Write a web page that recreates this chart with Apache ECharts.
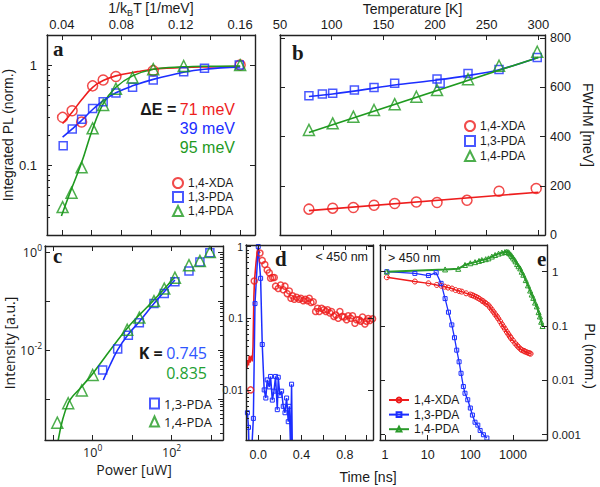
<!DOCTYPE html>
<html><head><meta charset="utf-8">
<script src="https://cdn.jsdelivr.net/npm/echarts@6/dist/echarts.min.js"></script>
<style>html,body{margin:0;padding:0;background:#fff}#c{width:600px;height:487px}</style>
</head><body><div id="c"></div><script>
// ---------- Panel a : integrated PL vs 1/kBT ----------
const aX_XDA = [0.0405,0.0469,0.0533,0.0607,0.0678,0.0764,0.1015,0.16];
const aY_XDA = [0.30,0.35,0.27,0.62,0.71,0.77,0.88,1.0];
const aX_13 = [0.0409,0.047,0.0533,0.0607,0.0678,0.0764,0.0876,0.1015,0.122,0.136,0.1594];
const aY_13 = [0.156,0.229,0.288,0.368,0.43,0.525,0.60,0.71,0.86,0.93,1.0];
const aX_14 = [0.0405,0.0465,0.0533,0.0607,0.0678,0.0764,0.0876,0.1015,0.122,0.16];
const aY_14 = [0.038,0.053,0.095,0.233,0.40,0.58,0.75,0.91,0.98,1.0];
const aFitX_XDA = [0.0405,0.047,0.0533,0.0607,0.0678,0.0764,0.091,0.1015,0.122,0.14,0.16];
const aFitY_XDA = [0.26,0.34,0.45,0.60,0.70,0.78,0.86,0.91,0.95,0.96,0.97];
const aFitX_13 = [0.0405,0.047,0.0533,0.0607,0.0678,0.0764,0.0876,0.1015,0.122,0.136,0.16];
const aFitY_13 = [0.19,0.23,0.28,0.36,0.44,0.53,0.62,0.72,0.85,0.91,0.96];
const aFitX_14 = [0.0397,0.0465,0.0533,0.0607,0.0678,0.0764,0.0876,0.1015,0.122,0.14,0.16];
const aFitY_14 = [0.031,0.058,0.106,0.23,0.41,0.60,0.78,0.91,0.96,0.975,0.98];
const aTopLabels = [0.04,0.08,0.12,0.16];
const aXTicks = [0.04,0.06,0.08,0.10,0.12,0.14,0.16];

// ---------- Panel b : FWHM vs temperature ----------
const bT_XDA = [78,101,121,141,161,182,202,231,262,298];
const bW_XDA = [105,109,112,121,128,134,132,141,178,189];
const bT_13 = [78,91,101,122,141,161,202,205,232,262,299];
const bW_13 = [566,573,576,589,600,617,634,617,657,673,722];
const bT_14 = [78,101,121,141,161,182,202,232,262,299];
const bW_14 = [427,454,481,508,532,562,589,633,688,745];
const bFitT_XDA = [78,300];
const bFitW_XDA = [99,174];
const bFitT_13 = [78,101,141,161,202,232,262,300];
const bFitW_13 = [563,573,597,610,630,648,672,722];
const bFitT_14 = [78,300];
const bFitW_14 = [417,722];
const bTopLabels = [50,100,150,200,250,300];
const bYLabels = [0,200,400,600,800];

// ---------- Panel c : intensity vs power ----------
const cP_13 = [1.79,4.3,8.0,15.2,35.7,65,121,275,520,930];
const cI_13 = [0.0039,0.0105,0.020,0.036,0.089,0.143,0.248,0.41,0.63,0.97];
const cP_14 = [0.127,0.24,0.53,1.0,7.5,15.2,35.7,65,121,275,520,930];
const cI_14 = [0.00033,0.00082,0.0015,0.0031,0.026,0.046,0.10,0.18,0.30,0.54,0.66,1.0];
const cFitP_13 = [1.86,2.74,4.3,8.0,15.2,35.7,65,121];
const cFitI_13 = [0.00245,0.0049,0.0101,0.021,0.038,0.089,0.155,0.27];
const cFitP_14 = [0.134,0.24,0.53,1.0,7.5,35.7,121];
const cFitI_14 = [0.000145,0.00082,0.0018,0.0033,0.028,0.105,0.31];

// ---------- Panel d : < 450 nm decay ----------
const dT_XDAline = [-0.105,-0.098,-0.09,-0.083,-0.076,-0.069,-0.062,-0.055,-0.048,-0.04,-0.035,-0.02,-0.005,0.016];
const dV_XDAline = [0.02,0.026,0.022,0.03,0.024,0.028,0.03,0.025,0.04,0.2,0.33,0.6,0.95,0.81];
const dT_XDA = [-0.07,-0.037,0.016,0.037,0.061,0.083,0.102,0.114,0.133,0.148,0.160,0.185,0.207,0.231,0.247,0.268,0.287,0.302,0.318,0.333,0.354,0.376,0.394,0.416,0.434,0.456,0.471,0.487,0.508,0.530,0.548,0.564,0.585,0.606,0.625,0.64,0.662,0.677,0.699,0.717,0.739,0.754,0.776,0.794,0.816,0.831,0.853,0.871,0.893,0.908,0.93,0.948,0.963,0.985,1.0,1.016,1.031,1.056];
const dV_XDA = [0.01,0.33,0.81,0.64,0.56,0.47,0.43,0.36,0.37,0.37,0.28,0.26,0.29,0.25,0.28,0.22,0.24,0.19,0.205,0.184,0.196,0.184,0.19,0.175,0.184,0.175,0.19,0.166,0.17,0.124,0.138,0.124,0.138,0.131,0.124,0.131,0.118,0.124,0.106,0.111,0.1,0.124,0.106,0.104,0.095,0.108,0.1,0.108,0.085,0.095,0.095,0.091,0.104,0.083,0.091,0.099,0.093,0.098];
const dT_13 = [-0.10,-0.09,-0.085,-0.075,-0.06,-0.045,-0.03,0.0,0.022,0.037,0.055,0.07,0.083,0.102,0.114,0.13,0.145,0.16,0.176,0.185,0.2,0.216,0.231,0.247,0.262,0.277,0.287,0.299,0.308,0.315];
const dV_13 = [0.0048,0.003,0.0015,0.0015,0.0015,0.004,0.16,1.0,0.36,0.043,0.01,0.0077,0.0138,0.011,0.0154,0.0072,0.0096,0.0154,0.0053,0.015,0.0084,0.0096,0.0059,0.0048,0.0077,0.0036,0.0059,0.0015,0.012,0.0015];
const dXLabels = [0,0.4,0.8];
const dYLabels = [0.01,0.1,1];

// ---------- Panel e : > 450 nm decay ----------
const eT_XDA = [1.1,5,10.4,16.3,21,25,30,37,45,55,63,80,100,110,120,135,150,165,186,200,220,240,267,290,320,350,382,420,450,500,550,600,650,720,780,850,900,1000,1130,1250,1350,1500,1620,1800,1900,2100,2300,2450,2600];
const eV_XDA = [0.79,0.66,0.61,0.57,0.55,0.53,0.51,0.49,0.46,0.44,0.43,0.40,0.38,0.37,0.36,0.345,0.33,0.315,0.295,0.285,0.27,0.255,0.24,0.22,0.2,0.182,0.165,0.15,0.138,0.122,0.108,0.097,0.088,0.078,0.071,0.064,0.06,0.054,0.048,0.044,0.041,0.038,0.036,0.035,0.034,0.033,0.032,0.0315,0.031];
const eT_13 = [1.1,5,10.4,15.8,20.6,25.6,30.7,36.8,42.5,48,54.6,60.6,68.7,75,87,100,112,129,150,170,203,245];
const eV_13 = [1.0,0.93,0.85,0.96,0.61,0.32,0.18,0.105,0.061,0.036,0.022,0.0135,0.0077,0.0058,0.0044,0.0031,0.0023,0.0017,0.0015,0.0012,0.001,0.00087];
const eT_14 = [1.1,25.6,52,75,100,129,160,186,230,267,320,382,460,550,650,720,780,820,880,940,1000,1080,1150,1250,1350,1480,1600,1750,2000,2250,2530,2750,3000,3300,3630,4000,4300,4600,4950];
const eV_14 = [1.0,1.1,1.13,1.33,1.43,1.5,1.58,1.64,1.7,1.76,1.9,2.03,2.15,2.24,2.3,2.33,2.28,2.2,2.08,1.94,1.82,1.68,1.55,1.38,1.26,1.15,1.0,0.88,0.7,0.56,0.45,0.38,0.33,0.27,0.23,0.18,0.15,0.12,0.1];
const eXLabels = [1,10,100,1000];
const eYLabels = [0.001,0.01,0.1,1];

// ---------- helpers ----------
const zip = (xs, ys) => xs.map((x, i) => [x, ys[i]]);
const FONT = "'Liberation Sans', Arial, sans-serif";
const OPEN = "'Open Sans', 'Liberation Sans', sans-serif";
const SERIF = "'Liberation Serif', 'Times New Roman', serif";
const FC = '#1a1a1a';
const RED = '#ee1d1d', BLUE = '#1c2eff', GREEN = '#1f9a1f';
const decades = (lo, hi) => { const o = []; for (let e = -6; e <= 6; e++) { const v = Math.pow(10, e); if (v >= lo && v <= hi) o.push(v); } return o; };
const minorLog = (lo, hi) => { const o = []; for (let e = -6; e <= 5; e++) for (let m = 2; m <= 9; m++) { const v = +(m * Math.pow(10, e)).toPrecision(3); if (v >= lo && v <= hi) o.push(v); } return o; };
const logFmt = v => { const e = Math.round(Math.log10(v)); return e >= 0 ? String(Math.pow(10, e)) : '0.' + '0'.repeat(-e - 1) + '1'; };
const supFmt = v => '{n|10}{s|' + Math.round(Math.log10(v)) + '}';
const supRich = { n: { fontSize: 12.5, lineHeight: 18, fontFamily: OPEN, color: FC }, s: { fontSize: 8.5, verticalAlign: 'top', fontFamily: OPEN, color: FC } };

function ax(o) {
  return {
    type: o.type || 'value', gridIndex: o.grid, position: o.pos,
    min: o.min, max: o.max, logBase: 10,
    name: o.name || '', nameLocation: 'middle', nameGap: o.nameGap || 0,
    nameRotate: o.nameRotate,
    nameTextStyle: Object.assign({ fontSize: 14, color: FC, fontFamily: o.font || FONT }, o.nameStyle || {}),
    axisLine: { show: o.line !== false, onZero: false, lineStyle: { color: '#222', width: 1.4 } },
    axisTick: { show: !!o.ticks, inside: true, length: o.tickLen || 5, customValues: o.ticks, lineStyle: { color: '#222', width: 1 } },
    axisLabel: { show: !!o.labels, customValues: o.labels, margin: o.margin || 6, fontSize: o.fs || 12, color: FC, fontFamily: o.font || FONT, formatter: o.fmt, rich: o.rich },
    splitLine: { show: false }, splitArea: { show: false }, minorTick: { show: false },
    silent: true, z: 5
  };
}
const aMin = 0.02, aMax = 2, cXMin = 0.062, cXMax = 2000, cYMin = 1.46e-4, cYMax = 1.33;
const dYMin = 0.002, dYMax = 1.05, eXMin = 0.76, eXMax = 6300, eYMin = 0.0008, eYMax = 3.1;

const xAxis = [
  ax({ grid: 0, pos: 'top', min: 0.03, max: 0.17, labels: aTopLabels, ticks: aXTicks, fmt: v => v.toFixed(2), fs: 13, margin: 4,
       name: '{n|1/k}{sub|B}{n|T [1/meV]}', nameGap: 17,
       nameStyle: { rich: { n: { fontSize: 14, lineHeight: 18, color: FC, fontFamily: FONT }, sub: { fontSize: 9, verticalAlign: 'bottom', color: FC, fontFamily: FONT } } } }),
  ax({ grid: 0, pos: 'bottom', min: 0.03, max: 0.17, ticks: aXTicks }),
  ax({ grid: 1, pos: 'top', min: 50, max: 306.5, labels: bTopLabels, ticks: bTopLabels, fs: 13, margin: 4, name: 'Temperature [K]', nameGap: 19 }),
  ax({ grid: 1, pos: 'bottom', min: 50, max: 306.5, ticks: bTopLabels }),
  ax({ grid: 2, type: 'log', pos: 'bottom', min: cXMin, max: cXMax, labels: [1, 100], ticks: decades(cXMin, cXMax), fmt: supFmt, rich: supRich, margin: 3, font: OPEN, name: 'Power [uW]', nameGap: 22 }),
  ax({ grid: 2, type: 'log', pos: 'top', min: cXMin, max: cXMax, ticks: decades(cXMin, cXMax) }),
  ax({ grid: 3, pos: 'bottom', min: -0.113, max: 1.06, labels: dXLabels, ticks: [0, 0.2, 0.4, 0.6, 0.8, 1.0], fmt: v => v.toFixed(1), fs: 12.5, margin: 8 }),
  ax({ grid: 3, pos: 'top', min: -0.113, max: 1.06, ticks: [0, 0.2, 0.4, 0.6, 0.8, 1.0] }),
  ax({ grid: 4, type: 'log', pos: 'bottom', min: eXMin, max: eXMax, labels: eXLabels, ticks: eXLabels, fmt: v => String(Math.round(v)), fs: 12.5, margin: 8 }),
  ax({ grid: 4, type: 'log', pos: 'top', min: eXMin, max: eXMax, ticks: eXLabels })
];
const yAxis = [
  ax({ grid: 0, type: 'log', pos: 'left', min: aMin, max: aMax, labels: [0.1, 1], ticks: [0.1, 1], fmt: logFmt, fs: 13, margin: 10, name: 'Integrated PL (norm.)', nameGap: 29 }),
  ax({ grid: 0, type: 'log', pos: 'left', min: aMin, max: aMax, line: false, ticks: minorLog(aMin, aMax), tickLen: 3 }),
  ax({ grid: 0, type: 'log', pos: 'right', min: aMin, max: aMax, ticks: [0.1, 1] }),
  ax({ grid: 1, pos: 'right', min: 0, max: 813, labels: bYLabels, ticks: bYLabels, fs: 12.5, margin: 5 }),
  ax({ grid: 1, pos: 'left', min: 0, max: 813, ticks: bYLabels }),
  ax({ grid: 2, type: 'log', pos: 'left', min: cYMin, max: cYMax, labels: [0.01, 1], ticks: decades(cYMin, cYMax), fmt: supFmt, rich: supRich, margin: 3, font: OPEN, name: 'Intensity [a.u.]', nameGap: 25 }),
  ax({ grid: 2, type: 'log', pos: 'right', min: cYMin, max: cYMax, ticks: decades(cYMin, cYMax) }),
  ax({ grid: 2, type: 'log', pos: 'right', min: cYMin, max: cYMax, line: false, ticks: minorLog(cYMin, cYMax), tickLen: 3 }),
  ax({ grid: 3, type: 'log', pos: 'left', min: dYMin, max: dYMax, labels: dYLabels, ticks: dYLabels, fmt: logFmt, fs: 10.5, margin: 3 }),
  ax({ grid: 3, type: 'log', pos: 'left', min: dYMin, max: dYMax, line: false, ticks: minorLog(dYMin, dYMax), tickLen: 3 }),
  ax({ grid: 3, type: 'log', pos: 'right', min: dYMin, max: dYMax, ticks: dYLabels }),
  ax({ grid: 4, type: 'log', pos: 'right', min: eYMin, max: eYMax, labels: eYLabels, ticks: eYLabels, fmt: logFmt, fs: 11.5, margin: 5 }),
  ax({ grid: 4, type: 'log', pos: 'left', min: eYMin, max: eYMax, ticks: eYLabels })
];

const grid = [
  { left: 47, top: 35, width: 208, height: 200 },
  { left: 280, top: 35, width: 265, height: 200 },
  { left: 45, top: 246, width: 178, height: 194 },
  { left: 246, top: 245, width: 127, height: 195 },
  { left: 380, top: 245, width: 167, height: 195 }
];

const hollow = c => ({ color: 'rgba(255,255,255,0)', borderColor: c, borderWidth: 1.5 });
function sc(name, xi, yi, xs, ys, symbol, size, color) {
  return { type: 'scatter', name, xAxisIndex: xi, yAxisIndex: yi, data: zip(xs, ys), symbol, symbolSize: size, itemStyle: hollow(color), z: 4, silent: true };
}
function fit(name, xi, yi, xs, ys, color, smooth) {
  return { type: 'line', name, xAxisIndex: xi, yAxisIndex: yi, data: zip(xs, ys), symbol: 'none', showSymbol: false, smooth: smooth, lineStyle: { color, width: 1.6 }, z: 3, silent: true };
}
function mline(name, xi, yi, xs, ys, symbol, size, color, w) {
  return { type: 'line', name, xAxisIndex: xi, yAxisIndex: yi, data: zip(xs, ys), symbol, symbolSize: size, showSymbol: true, showAllSymbol: true,
    itemStyle: { color: 'rgba(255,255,255,0)', borderColor: color, borderWidth: 1 }, lineStyle: { color, width: w || 1.3 }, z: 3, silent: true };
}

const series = [
  // a
  fit('fa1', 1, 0, aFitX_XDA, aFitY_XDA, RED, 0.4),
  fit('fa2', 1, 0, aFitX_13, aFitY_13, BLUE, 0.4),
  fit('fa3', 1, 0, aFitX_14, aFitY_14, GREEN, 0.4),
  sc('1,4-XDA', 1, 0, aX_XDA, aY_XDA, 'circle', 10, RED),
  sc('1,3-PDA', 1, 0, aX_13, aY_13, 'rect', 8, BLUE),
  sc('1,4-PDA', 1, 0, aX_14, aY_14, 'triangle', 11, GREEN),
  // b
  fit('fb1', 3, 3, bFitT_XDA, bFitW_XDA, RED, 0),
  fit('fb2', 3, 3, bFitT_13, bFitW_13, BLUE, 0.3),
  fit('fb3', 3, 3, bFitT_14, bFitW_14, GREEN, 0),
  sc('1,4-XDA ', 3, 3, bT_XDA, bW_XDA, 'circle', 10, RED),
  sc('1,3-PDA ', 3, 3, bT_13, bW_13, 'rect', 8, BLUE),
  sc('1,4-PDA ', 3, 3, bT_14, bW_14, 'triangle', 11, GREEN),
  // c
  fit('fc1', 4, 5, cFitP_13, cFitI_13, BLUE, 0.4),
  fit('fc2', 4, 5, cFitP_14, cFitI_14, GREEN, 0.4),
  sc('1,3-PDA  ', 4, 5, cP_13, cI_13, 'rect', 8, BLUE),
  sc('1,4-PDA  ', 4, 5, cP_14, cI_14, 'triangle', 11, GREEN),
  // d
  fit('fd1', 6, 8, dT_XDAline, dV_XDAline, RED, 0),
  sc('dXDA', 6, 8, dT_XDA, dV_XDA, 'circle', 6, RED),
  mline('d13', 6, 8, dT_13, dV_13, 'rect', 4, BLUE, 1.5),
  // e
  mline('1,4-XDA   ', 8, 11, eT_XDA, eV_XDA, 'circle', 5, RED, 1.5),
  mline('1,3-PDA   ', 8, 11, eT_13, eV_13, 'rect', 4, BLUE, 1.3),
  mline('1,4-PDA   ', 8, 11, eT_14, eV_14, 'triangle', 5, '#2a9a2a', 2)
];

const legBase = { orient: 'vertical', padding: 0, selectedMode: false, itemHeight: 10, itemWidth: 10, textStyle: { fontSize: 12, color: FC, fontFamily: FONT } };
const legend = [
  Object.assign({}, legBase, { data: ['1,4-XDA', '1,3-PDA', '1,4-PDA'], left: 172, top: 177, itemGap: 2 }),
  Object.assign({}, legBase, { data: ['1,4-XDA ', '1,3-PDA ', '1,4-PDA '], left: 464, top: 120, itemGap: 3 }),
  Object.assign({}, legBase, { data: ['1,3-PDA  ', '1,4-PDA  '], left: 149, top: 397, itemGap: 5, itemWidth: 9, textStyle: { fontSize: 13, color: FC, fontFamily: OPEN } }),
  Object.assign({}, legBase, { data: ['1,4-XDA   ', '1,3-PDA   ', '1,4-PDA   '], left: 388, top: 394, itemGap: 2.6, itemWidth: 20, itemHeight: 6 })
];

const T = (text, x, y, o) => ({ type: 'text', silent: true, z: 50, style: Object.assign({ text, x, y, fill: FC, fontSize: 13, fontFamily: FONT, align: 'left', verticalAlign: 'middle' }, o || {}) });
const letter = (t, x, y) => T(t, x, y, { fontFamily: SERIF, fontWeight: 'bold', fontSize: 21 });
const graphic = [
  letter('a', 53, 49), letter('b', 292, 53), letter('c', 53, 256), letter('d', 275, 259), letter('e', 537, 259),
  T('{k|ΔE =} {r|71 meV}', 235, 109, { align: 'right', rich: { k: { fontSize: 16, fontWeight: 'bold', fill: FC, fontFamily: FONT }, r: { fontSize: 16, fill: RED, fontFamily: FONT } } }),
  T('39 meV', 235, 128, { align: 'right', fontSize: 16, fill: BLUE }),
  T('95 meV', 235, 147, { align: 'right', fontSize: 16, fill: GREEN }),
  T('{k|K =} {b|0.745}', 207, 353, { align: 'right', rich: { k: { fontSize: 16, fontWeight: 'bold', fill: FC, fontFamily: OPEN }, b: { fontSize: 16, fill: '#2e55ff', fontFamily: OPEN } } }),
  T('0.835', 207, 373, { align: 'right', fontSize: 16, fill: '#22a032', fontFamily: OPEN }),
  T('< 450 nm', 368, 257, { align: 'right', fontSize: 12.5 }),
  T('> 450 nm', 388, 258, { fontSize: 12.5 }),
  T('Time [ns]', 368, 477, { align: 'center', fontSize: 14 }),
  { type: 'text', silent: true, z: 50, x: 588, y: 125, rotation: -Math.PI / 2, style: { text: 'FWHM [meV]', x: 0, y: 0, fill: FC, fontSize: 14, fontFamily: FONT, align: 'center', verticalAlign: 'middle' } },
  { type: 'text', silent: true, z: 50, x: 590, y: 356, rotation: -Math.PI / 2, style: { text: 'PL (norm.)', x: 0, y: 0, fill: FC, fontSize: 14, fontFamily: FONT, align: 'center', verticalAlign: 'middle' } }
];

const chart = echarts.init(document.getElementById('c'), null, { renderer: 'svg', width: 600, height: 487 });
chart.setOption({ animation: false, backgroundColor: '#fff', textStyle: { fontFamily: FONT }, grid, xAxis, yAxis, series, legend, graphic, tooltip: { show: false } });
</script></body></html>
